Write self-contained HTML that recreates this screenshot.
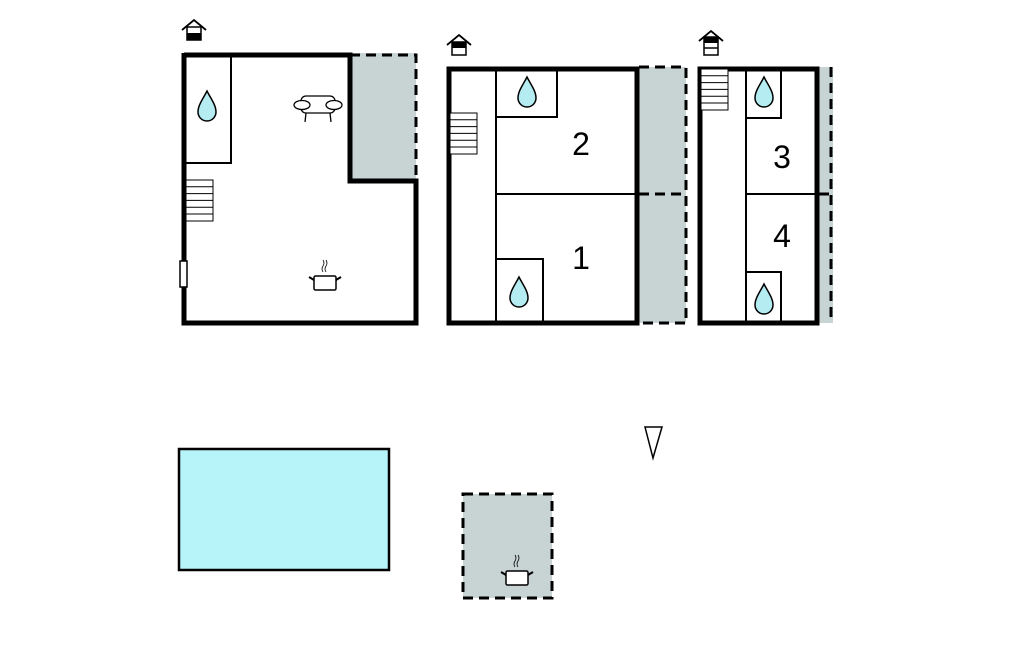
<!DOCTYPE html>
<html><head><meta charset="utf-8"><style>
html,body{margin:0;padding:0;background:#fff;}
svg{display:block;}
text{font-family:"Liberation Sans",Arial,sans-serif;}
</style></head><body>
<svg width="1024" height="652" viewBox="0 0 1024 652" xmlns="http://www.w3.org/2000/svg">
<defs>
<g id="drop"><path d="M0,-15 C4,-7 9,-1 9,6 A9,9 0 0 1 -9,6 C-9,-1 -4,-7 0,-15 Z" fill="#b4ecf2" stroke="#000" stroke-width="1.5"/></g>
<g id="pot" fill="none" stroke="#000">
<rect x="-11" y="-6" width="22" height="14" rx="1.5" fill="#fff" stroke-width="1.5"/>
<path d="M-11,-2 L-16,-5 M11,-2 L16,-5" stroke-width="2"/>
<path d="M-2,-10 q-2,-3 0,-6 q2,-3 0,-6 M1,-10 q-2,-3 0,-6 q2,-3 0,-6" stroke-width="0.8"/>
</g>
<g id="stairs" fill="#fff" stroke="#000" stroke-width="1">
<rect x="0" y="0" width="27" height="41"/>
<path d="M0,6.8H27M0,13.6H27M0,20.4H27M0,27.2H27M0,34H27"/>
</g>
</defs>

<!-- Floor 1 -->
<rect x="350" y="53" width="66" height="128" fill="#c8d3d3"/>
<path d="M350,55 H416 V181" fill="none" stroke="#000" stroke-width="3" stroke-dasharray="10,6"/>
<path d="M184,53 V323 H416 V181 H350 V55 H184" fill="none" stroke="#000" stroke-width="5"/>
<rect x="184" y="55" width="47" height="108" fill="none" stroke="#000" stroke-width="2"/>
<use href="#drop" x="207" y="106"/>
<use href="#stairs" x="186" y="180"/>
<rect x="180" y="261" width="7" height="26" fill="#fff" stroke="#000" stroke-width="1.5"/>
<g fill="#fff" stroke="#000" stroke-width="1.3">
<rect x="301" y="96" width="34" height="17" rx="5"/>
<ellipse cx="302" cy="105" rx="8" ry="4.5"/>
<ellipse cx="334" cy="105" rx="8" ry="4.5"/>
<path d="M306,113 L305,122 M330,113 L331,122" fill="none"/>
</g>
<use href="#pot" x="325" y="282"/>
<g transform="translate(194,33)">
<path d="M-12,-3 L0,-13 L12,-3" fill="none" stroke="#000" stroke-width="1.8"/>
<rect x="-7" y="-6" width="14" height="13" fill="#fff" stroke="#000" stroke-width="1.5"/>
<rect x="-7" y="0" width="14" height="7" fill="#000"/>
</g>

<!-- Floor 2 -->
<rect x="637" y="67" width="49" height="256" fill="#c8d3d3"/>
<path d="M639,67 H686 V323 H639 M639,194 H686" fill="none" stroke="#000" stroke-width="3" stroke-dasharray="10,6"/>
<rect x="449" y="69" width="188" height="254" fill="none" stroke="#000" stroke-width="5"/>
<path d="M496,69 V323 M496,194 H637 M496,117 H557 V69 M496,259 H543 V323" fill="none" stroke="#000" stroke-width="2"/>
<use href="#drop" x="527" y="92"/>
<use href="#drop" x="519" y="292"/>
<use href="#stairs" x="450" y="113"/>
<text x="581" y="155" font-size="32" text-anchor="middle">2</text>
<text x="581" y="269" font-size="32" text-anchor="middle">1</text>
<g transform="translate(459,48)">
<path d="M-12,-3 L0,-13 L12,-3" fill="none" stroke="#000" stroke-width="1.8"/>
<rect x="-7" y="-6" width="14" height="13" fill="#fff" stroke="#000" stroke-width="1.5"/>
<rect x="-7" y="-6" width="14" height="6" fill="#000"/>
</g>

<!-- Floor 3 -->
<rect x="817" y="67" width="16" height="256" fill="#c8d3d3"/>
<path d="M831,67 V323 M819,194 H831" fill="none" stroke="#000" stroke-width="3" stroke-dasharray="10,6"/>
<rect x="700" y="69" width="117" height="254" fill="none" stroke="#000" stroke-width="5"/>
<path d="M746,69 V323 M746,194 H817 M746,118 H781 V69 M746,272 H781 V323" fill="none" stroke="#000" stroke-width="2"/>
<use href="#drop" x="764" y="92"/>
<use href="#drop" x="764" y="299"/>
<use href="#stairs" x="701" y="69"/>
<text x="782" y="168" font-size="32" text-anchor="middle">3</text>
<text x="782" y="247" font-size="32" text-anchor="middle">4</text>
<g transform="translate(711,44)">
<path d="M-12,-3 L0,-13 L12,-3" fill="none" stroke="#000" stroke-width="1.8"/>
<rect x="-7" y="-7" width="14" height="18" fill="#fff" stroke="#000" stroke-width="1.5"/>
<rect x="-7" y="-7" width="14" height="6" fill="#000"/>
<path d="M-7,4 H7" stroke="#000" stroke-width="1.5"/>
</g>

<!-- Pool -->
<rect x="179" y="449" width="210" height="121" fill="#b6f4fa" stroke="#000" stroke-width="2.5"/>

<!-- Terrace -->
<rect x="463" y="494" width="89" height="104" fill="#c8d3d3" stroke="#000" stroke-width="3" stroke-dasharray="10,6"/>
<use href="#pot" x="517" y="577"/>

<!-- North arrow -->
<path d="M645,427 H662 L653,458 Z" fill="#fff" stroke="#000" stroke-width="1.5"/>
</svg>
</body></html>
